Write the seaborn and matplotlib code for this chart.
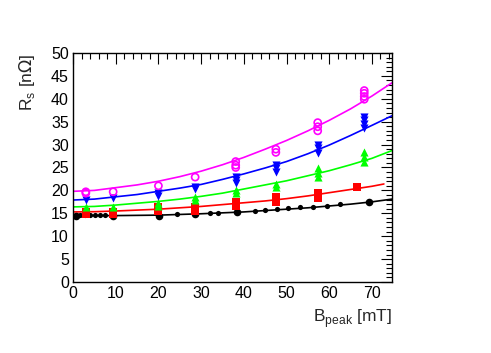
import numpy as np
import pandas as pd
import matplotlib
matplotlib.use("Agg")
import matplotlib.pyplot as plt
import seaborn as sns
from matplotlib.ticker import MultipleLocator

# --- measured points (B_peak in mT, R_s in nOhm) ---
black_b = [0.7, 1.6, 2.8, 4.0, 5.2, 6.3, 7.5, 9.4, 20.2, 24.3, 28.6, 32.1, 34.0, 38.3,
           42.6, 45.0, 47.7, 50.4, 53.2, 56.1, 59.4, 62.5, 69.2]
black_r = [14.4, 14.6, 14.6, 14.6, 14.6, 14.6, 14.6, 14.4, 14.5, 14.8, 14.9, 15.1, 15.1, 15.2,
           15.6, 15.7, 15.9, 16.1, 16.3, 16.4, 16.7, 17.0, 17.4]
black_big = [1, 0, 0, 0, 0, 0, 0, 1, 1, 0, 1, 0, 0, 1,
             0, 0, 0, 0, 0, 0, 0, 0, 1]

red_b = [3.0, 3.0, 9.4, 9.4, 20.0, 20.0, 28.6, 28.6, 38.1, 38.1, 47.5, 47.5, 57.3, 57.3, 66.5]
red_r = [15.2, 14.8, 15.3, 14.85, 16.3, 15.6, 16.3, 15.6, 17.5, 16.6, 18.5, 17.5, 19.4, 18.3, 20.8]

green_b = [3.0, 9.4, 20.0, 20.0, 28.6, 28.6, 38.1, 38.1, 47.5, 47.5, 57.3, 57.3, 57.3, 68.2, 68.2, 68.2]
green_r = [16.3, 16.4, 17.3, 16.6, 18.5, 17.9, 20.1, 19.4, 21.5, 20.7, 24.8, 23.7, 22.9, 28.4, 27.4, 26.3]

blue_b = [3.0, 9.4, 20.0, 20.0, 28.6, 28.6, 38.1, 38.1, 38.1, 47.5, 47.5, 47.5,
          57.3, 57.3, 57.3, 68.2, 68.2, 68.2, 68.2]
blue_r = [17.9, 18.3, 19.4, 18.8, 20.8, 20.3, 23.0, 22.3, 21.7, 25.5, 24.8, 24.1,
          29.9, 29.2, 28.1, 36.1, 35.4, 34.5, 33.6]

magenta_b = [3.0, 3.0, 9.4, 20.0, 28.6, 38.1, 38.1, 38.1, 47.5, 47.5,
             57.3, 57.3, 57.3, 68.2, 68.2, 68.2, 68.2]
magenta_r = [19.7, 19.4, 19.7, 21.0, 22.9, 26.3, 25.5, 25.0, 29.0, 28.3,
             34.8, 33.9, 33.0, 41.8, 41.2, 40.5, 39.9]

# --- fit curves ---
fit_b = [0, 5, 10, 15, 20, 25, 30, 35, 40, 45, 50, 55, 60, 65, 70, 74.7]
fit_black = [14.5, 14.5, 14.5, 14.55, 14.6, 14.75, 14.9, 15.1, 15.3, 15.6, 15.9, 16.2,
             16.6, 17.0, 17.5, 18.1]
fit_green = [16.4, 16.5, 16.8, 17.2, 17.6, 18.1, 18.7, 19.4, 20.3, 21.2, 22.1, 23.2,
             24.3, 25.6, 27.0, 28.7]
fit_blue = [17.9, 18.1, 18.6, 19.1, 19.8, 20.5, 21.3, 22.4, 23.6, 24.9, 26.3, 28.0,
            29.9, 32.0, 34.2, 36.3]
fit_magenta = [19.8, 20.0, 20.6, 21.2, 22.0, 23.0, 24.2, 25.6, 27.2, 29.0, 30.9, 33.0,
               35.3, 37.8, 40.6, 43.5]
fit_red_b = [0, 5, 10, 15, 20, 25, 30, 35, 40, 45, 50, 55, 60, 65, 70, 72.8]
fit_red = [15.3, 15.35, 15.5, 15.7, 15.9, 16.2, 16.5, 16.9, 17.3, 17.7, 18.2, 18.8,
           19.5, 20.2, 20.9, 21.4]

sns.set_theme(style="white")
plt.rcParams['font.family'] = ['Liberation Sans', 'DejaVu Sans']

fig = plt.figure(figsize=(4.91, 3.53), dpi=100)
ax = fig.add_axes([0.1487, 0.2011, 0.6497, 0.6488])

# fit lines
fits = [(fit_b, fit_black, 'black'), (fit_red_b, fit_red, '#ff0000'),
        (fit_b, fit_green, '#00ff00'), (fit_b, fit_blue, '#0000ff'),
        (fit_b, fit_magenta, '#ff00ff')]
for xb, yr, col in fits:
    sns.lineplot(x=xb, y=yr, color=col, linewidth=1.2, ax=ax, zorder=2)

# data points
blk = pd.DataFrame({'B': black_b, 'R': black_r, 'big': black_big})
sns.scatterplot(data=blk[blk.big == 0], x='B', y='R', color='black', marker='o',
                s=14, edgecolor='black', linewidth=0, ax=ax, zorder=3)
sns.scatterplot(data=blk[blk.big == 1], x='B', y='R', color='black', marker='o',
                s=30, edgecolor='black', linewidth=0, ax=ax, zorder=3)
sns.scatterplot(x=red_b, y=red_r, color='#ff0000', marker='s', s=26,
                linewidth=0, ax=ax, zorder=3)
sns.scatterplot(x=green_b, y=green_r, color='#00ff00', marker='^', s=34,
                linewidth=0, ax=ax, zorder=3)
sns.scatterplot(x=blue_b, y=blue_r, color='#0000ff', marker='v', s=34,
                linewidth=0, ax=ax, zorder=3)
sns.scatterplot(x=magenta_b, y=magenta_r, marker='o', s=26, facecolors='none',
                edgecolor='#ff00ff', linewidth=1.2, ax=ax, zorder=3)

ax.set_xlim(0, 74.7)
ax.set_ylim(0, 50)
ax.xaxis.set_major_locator(MultipleLocator(10))
ax.xaxis.set_minor_locator(MultipleLocator(2))
ax.yaxis.set_major_locator(MultipleLocator(5))
ax.yaxis.set_minor_locator(MultipleLocator(1))
ax.tick_params(which='both', direction='in', top=True, right=True,
               labelsize=11.5, colors='black', width=0.8, pad=3)
ax.tick_params(which='major', length=8)
ax.tick_params(which='minor', length=4)
for sp in ax.spines.values():
    sp.set_color('black')
    sp.set_linewidth(1.0)

ax.set_xlabel(r'B$_{\mathregular{peak}}$ [mT]', fontsize=12.5, loc='right', labelpad=4)
ax.set_ylabel(r'R$_{\mathregular{s}}$ [n$\Omega$]', fontsize=12.5, loc='top', labelpad=10)

fig.savefig('out.png', dpi=100)
